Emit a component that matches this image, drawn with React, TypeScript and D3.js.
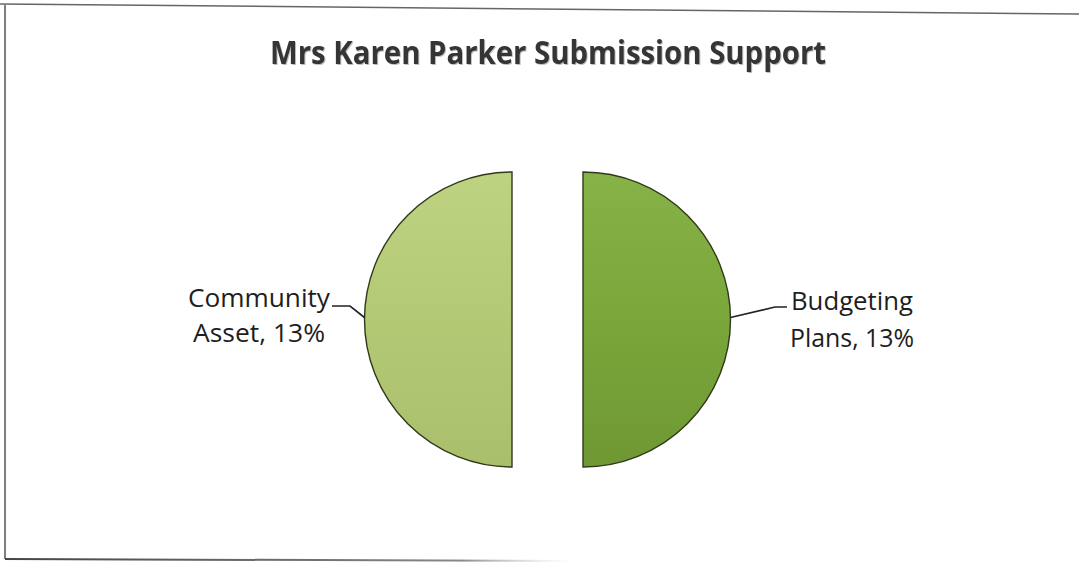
import React from "react";
import * as d3 from "d3";

const categories = ["Budgeting Plans", "Community Asset"];
const values = [13, 13];
const labelLines = [
  ["Budgeting", "Plans, 13%"],
  ["Community", "Asset, 13%"],
];
const title = "Mrs Karen Parker Submission Support";

const W = 1079;
const H = 562;
const cx = 547.5;
const cy = 319.5;
const R = 147.5;
const explode = 35.5;

const gradients = [
  { id: "gRight", top: "#86b247", mid: "#7aa63a", bottom: "#6f9834" },
  { id: "gLeft", top: "#bdd382", mid: "#b3c974", bottom: "#a9bf6c" },
];

const labelLayout = [
  { dx: 269, y1: 310, y2: 347, elbowDx: 192, elbowY: 307, endDx: 204, side: 1 },
  { dx: -253, y1: 307, y2: 342, elbowDx: -162, elbowY: 306, endDx: -180, side: -1 },
];
const labelWidths = [
  [122, 124],
  [142, 132],
];

export default function App() {
  const pie = d3
    .pie<number>()
    .sort(null)
    .startAngle(0)
    .endAngle(2 * Math.PI)(values);
  const arc = d3.arc<d3.PieArcDatum<number>>().innerRadius(0).outerRadius(R);

  return (
    <svg
      width={W}
      height={H}
      style={{ position: "absolute", left: 0, top: 0, background: "#fff" }}
    >
      <defs>
        {gradients.map((g) => (
          <linearGradient key={g.id} id={g.id} x1="0" y1="0" x2="0" y2="1">
            <stop offset="0" stopColor={g.top} />
            <stop offset="0.5" stopColor={g.mid} />
            <stop offset="1" stopColor={g.bottom} />
          </linearGradient>
        ))}
        <linearGradient id="bottomFade" x1="0" y1="0" x2="1" y2="0">
          <stop offset="0" stopColor="#444" />
          <stop offset="0.8" stopColor="#888" />
          <stop offset="1" stopColor="#ddd" stopOpacity="0" />
        </linearGradient>
        <filter id="tshadow" x="-5%" y="-20%" width="110%" height="150%">
          <feDropShadow dx="1" dy="1" stdDeviation="0.6" floodColor="#000" floodOpacity="0.25" />
        </filter>
      </defs>
      <line x1={0} y1={4} x2={W} y2={14} stroke="#666" strokeWidth={1.5} />
      <line x1={5} y1={5} x2={5} y2={559} stroke="#555" strokeWidth={1.5} />
      <line x1={5} y1={559} x2={575} y2={561} stroke="url(#bottomFade)" strokeWidth={2} />

      <text
        x={548}
        y={64}
        textAnchor="middle"
        fontFamily="Open Sans, sans-serif"
        fontWeight="bold"
        fontSize={32}
        fill="#353535"
        textLength={556}
        lengthAdjust="spacingAndGlyphs"
        filter="url(#tshadow)"
      >
        {title}
      </text>

      {pie.map((d, i) => {
        const mid = (d.startAngle + d.endAngle) / 2;
        const ox = cx + Math.sin(mid) * explode;
        const oy = cy - Math.cos(mid) * explode;
        const L = labelLayout[i];
        const edgeX = ox + L.side * R;
        const edgeY = cy;
        const lines = labelLines[i];
        return (
          <g key={categories[i]}>
            <g transform={`translate(${ox},${oy})`}>
              <path
                d={arc(d) || ""}
                fill={`url(#${gradients[i].id})`}
                stroke="#2f3a1c"
                strokeWidth={1.4}
              />
            </g>
            <polyline
              points={`${edgeX},${edgeY - 2} ${ox + L.elbowDx},${L.elbowY} ${ox + L.endDx},${L.elbowY}`}
              fill="none"
              stroke="#222"
              strokeWidth={1.6}
            />
            {lines.map((t, j) => (
              <text
                key={t}
                x={ox + L.dx}
                y={j === 0 ? L.y1 : L.y2}
                textAnchor="middle"
                fontFamily="Open Sans, sans-serif"
                fontSize={26}
                fill="#1e1e1e"
                textLength={labelWidths[i][j]}
                lengthAdjust="spacingAndGlyphs"
              >
                {t}
              </text>
            ))}
          </g>
        );
      })}
    </svg>
  );
}
